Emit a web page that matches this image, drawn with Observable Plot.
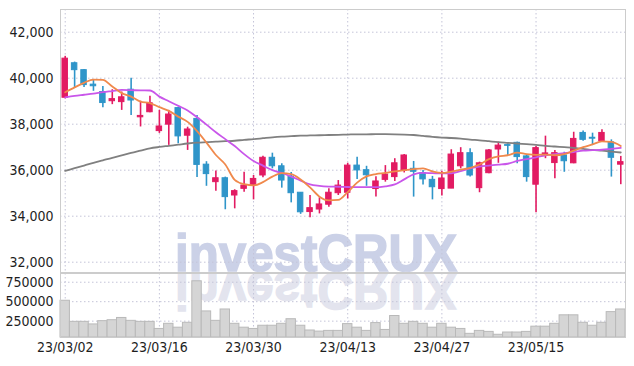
<!DOCTYPE html>
<html><head><meta charset="utf-8">
<script src="https://cdn.jsdelivr.net/npm/d3@7"></script>
<script src="https://cdn.jsdelivr.net/npm/@observablehq/plot@0.6"></script>
<style>
body{margin:0;background:#fff;}
#wrap{position:relative;width:634px;height:366px;overflow:hidden;background:#fff;}
#wm,#price,#vol{position:absolute;left:0;}
#wm{top:0;}
#price{top:0;}
#vol{top:272px;}
</style></head><body>
<div id="wrap">
<svg id="wm" width="634" height="366">
  <text x="175" y="271" textLength="282" lengthAdjust="spacingAndGlyphs" font-family="'Liberation Sans', Arial, sans-serif" font-weight="bold" font-size="52" fill="#cbd1e7" stroke="#cbd1e7" stroke-width="1.5">investCRUX</text>
  <text transform="translate(0,544) scale(1,-1)" x="175" y="271" textLength="282" lengthAdjust="spacingAndGlyphs" font-family="'Liberation Sans', Arial, sans-serif" font-weight="bold" font-size="52" fill="#e3e4ee" stroke="#e3e4ee" stroke-width="1.5">investCRUX</text>
</svg>
<div id="price"></div>
<div id="vol"></div>
</div>
<script>
const opens  = [39150,40650,40350,39720,39400,39000,38960,39500,38300,38520,37700,37980,38700,37500,38230,36240,35480,35650,34900,35190,35340,35770,36540,36170,35720,35020,34180,34290,34500,35000,35020,36200,36000,35180,35580,35700,35980,36060,35870,35580,35180,35200,36170,36740,35220,35870,36900,37090,37190,36600,35370,36650,36310,36640,36300,37620,37410,37260,37210,36240];
const closes = [40850,40350,39700,39650,38920,39090,39170,39030,38360,38910,37900,38420,37470,37770,36230,35830,35650,34830,35090,35330,35620,36540,36170,35550,35000,34170,34350,34510,35020,35330,36200,35990,35780,35510,35810,36300,36640,35930,35600,35260,35640,36680,36740,35770,36300,36860,37070,37060,36570,35700,36960,36730,36740,36390,37360,37320,37370,37620,36540,36350];
const highs  = [40950,40700,40380,39900,39640,39500,39400,40000,39000,39220,38600,38600,38740,37870,38380,36370,35960,35700,35150,35910,35770,36610,36740,36280,35900,35030,34900,34800,35190,35550,36300,36560,36170,35720,36200,36500,36680,36380,35990,35730,35950,36890,36980,36930,36350,36900,37220,37150,37220,36640,37030,37480,36860,36780,37650,37700,37610,37760,37320,36600];
const lows   = [39100,39550,39600,39430,38720,38850,38600,38380,37880,38500,37600,37080,37150,36860,35680,35300,35080,34280,34320,35040,34710,35670,36060,35220,34580,34080,33930,34100,34390,34900,34750,35600,35300,34830,35480,35510,35880,34830,35360,34710,34880,35200,36060,35700,35020,35850,36300,36640,36280,35480,34150,36500,35630,35910,36280,37260,37070,37220,35700,35370];
const volumes = [512000,241000,241000,208000,250000,262000,291000,254000,241000,241000,150000,216000,166000,229000,762000,375000,254000,400000,216000,166000,150000,191000,191000,216000,275000,191000,130000,116000,125000,125000,212000,166000,125000,225000,137000,316000,216000,241000,216000,166000,216000,166000,150000,87000,125000,112000,75000,104000,104000,112000,179000,179000,216000,325000,325000,229000,191000,229000,366000,400000];
const ma5  = [39390,39600,39800,39940,39930,39640,39350,39200,38980,38920,38740,38580,38330,38100,37700,37200,36660,36250,35580,35390,35340,35480,35720,35870,35830,35600,35250,34850,34690,34710,35050,35460,35730,35830,35880,35950,36000,36050,36080,35950,35880,35940,36020,36100,36250,36480,36600,36650,36760,36700,36670,36680,36650,36700,36850,37000,37120,37250,37230,37050];
const ma20 = [39170,39230,39280,39330,39390,39440,39490,39480,39470,39465,39200,39000,38800,38600,38300,37980,37650,37350,37050,36700,36400,36200,36000,35880,35720,35550,35380,35320,35290,35280,35270,35260,35260,35260,35300,35380,35600,35820,35880,35870,35860,35860,35960,36080,36160,36200,36240,36280,36400,36480,36560,36650,36700,36740,36790,36850,36870,36890,36930,36970];
const ma60 = [35970,36090,36200,36320,36430,36540,36640,36750,36850,36950,37010,37060,37110,37160,37200,37220,37240,37260,37280,37320,37350,37390,37430,37460,37480,37500,37510,37520,37530,37540,37550,37560,37560,37565,37565,37560,37550,37530,37490,37450,37420,37400,37370,37330,37300,37260,37220,37190,37160,37130,37100,37060,37030,37000,36970,36930,36880,36850,36810,36770];
const priceTicks = [32000,34000,36000,38000,40000,42000];
const volTicks = [250000,500000,750000];
const xTickIdx = [0,10,20,30,40,50];
const xTickLabels = ["23/03/02","23/03/16","23/03/30","23/04/13","23/04/27","23/05/15"];

const RED = "#e21b62", BLUE = "#2f95c9";
const GRID = "#c4c4d8";
const font = "'Liberation Sans Narrow','DejaVu Sans Condensed',sans-serif";

const candles = opens.map((o, i) => ({i, open: o, close: closes[i], high: highs[i], low: lows[i]}));
const up = candles.filter(d => d.close >= d.open);
const down = candles.filter(d => d.close < d.open);
const line = arr => arr.map((v, i) => ({i, v}));
const bw = 0.29;

const price = Plot.plot({
  width: 634, height: 273,
  marginTop: 9, marginBottom: 1, marginLeft: 60, marginRight: 9,
  style: {background: "transparent", fontFamily: font, fontSize: "14px", color: "#1e1e1e", overflow: "visible"},
  x: {domain: [-0.5, 59.5], axis: null},
  y: {domain: [31552, 42987], ticks: priceTicks, tickFormat: d3.format(","), tickSize: 0, tickPadding: 7, label: null},
  marks: [
    Plot.ruleY(priceTicks, {stroke: GRID, strokeDasharray: "1.5,2.5"}),
    Plot.ruleX(xTickIdx, {stroke: GRID, strokeDasharray: "1.5,2.5"}),
    Plot.frame({stroke: "#cccccc"}),
    Plot.ruleX(up, {x: "i", y1: "low", y2: "high", stroke: RED, strokeWidth: 1.6}),
    Plot.ruleX(down, {x: "i", y1: "low", y2: "high", stroke: BLUE, strokeWidth: 1.6}),
    Plot.rect(up, {x1: d => d.i - bw, x2: d => d.i + bw, y1: "open", y2: "close", fill: RED, stroke: RED, strokeWidth: 1}),
    Plot.rect(down, {x1: d => d.i - bw, x2: d => d.i + bw, y1: "open", y2: "close", fill: BLUE, stroke: BLUE, strokeWidth: 1}),
    Plot.line(line(ma60), {x: "i", y: "v", stroke: "#808080", strokeWidth: 1.8, curve: "monotone-x"}),
    Plot.line(line(ma20), {x: "i", y: "v", stroke: "#c956ea", strokeWidth: 1.8, curve: "monotone-x"}),
    Plot.line(line(ma5), {x: "i", y: "v", stroke: "#f0894c", strokeWidth: 1.8, curve: "monotone-x"})
  ]
});
document.getElementById("price").appendChild(price);

const volData = volumes.map((v, i) => ({i, v}));
const vol = Plot.plot({
  width: 634, height: 94,
  marginTop: 1, marginBottom: 29, marginLeft: 60, marginRight: 9,
  style: {background: "transparent", fontFamily: font, fontSize: "14px", color: "#1e1e1e", overflow: "visible"},
  x: {domain: [-0.5, 59.5], ticks: xTickIdx, tickFormat: d => xTickLabels[xTickIdx.indexOf(d)], tickSize: 0, tickPadding: 5, label: null},
  y: {domain: [40000, 862000], ticks: volTicks, tickFormat: d => String(d), tickSize: 0, tickPadding: 7, label: null},
  marks: [
    Plot.ruleY(volTicks, {stroke: GRID, strokeDasharray: "1.5,2.5"}),
    Plot.ruleX(xTickIdx, {stroke: GRID, strokeDasharray: "1.5,2.5"}),
    Plot.rect(volData, {x1: d => d.i - 0.5, x2: d => d.i + 0.5, y1: 40000, y2: "v", fill: "#d5d5d5", stroke: "#b9b9b9", strokeWidth: 1}),
    Plot.frame({stroke: "#cccccc"})
  ]
});
document.getElementById("vol").appendChild(vol);
</script>
</body></html>
